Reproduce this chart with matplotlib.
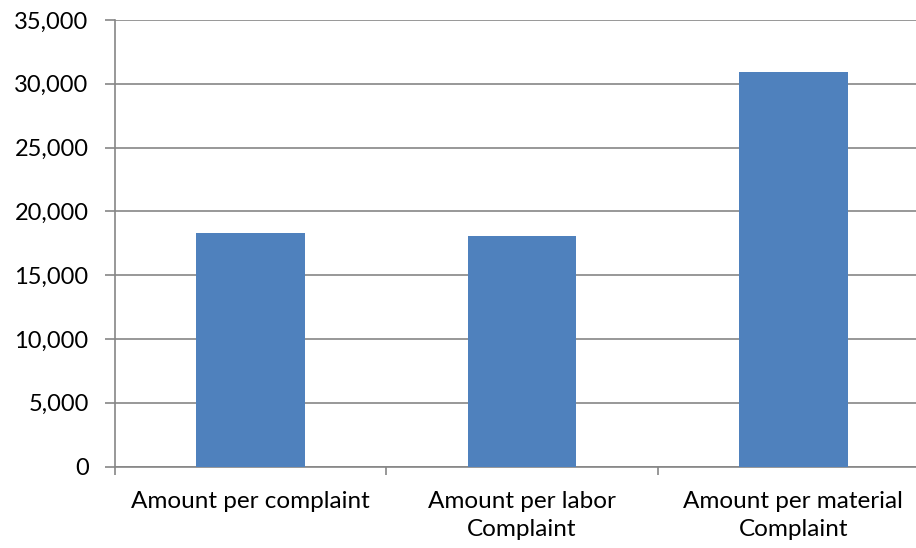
import matplotlib
matplotlib.use('Agg')
import matplotlib.pyplot as plt
from matplotlib.ticker import FuncFormatter, MultipleLocator

categories = ['Amount per complaint', 'Amount per labor\nComplaint', 'Amount per material\nComplaint']
amounts = [18330, 18050, 30950]

plt.rcParams['font.family'] = ['Lato', 'DejaVu Sans']

fig = plt.figure(figsize=(9.16, 5.48), dpi=100)
ax = fig.add_axes([115 / 916, 81.5 / 548, 814 / 916, 446.5 / 548])

grid_col = '#868686'
x = list(range(len(categories)))
ax.bar(x, amounts, width=0.4, color='#4F81BD', zorder=3)

ax.set_xlim(-0.5, 2.5)
ax.set_ylim(0, 35000)
ax.yaxis.set_major_locator(MultipleLocator(5000))
ax.yaxis.set_major_formatter(FuncFormatter(lambda v, p: f'{int(v):,}'))
ax.grid(axis='y', color=grid_col, linewidth=1.2, zorder=0)
ax.set_axisbelow(True)

ax.set_xticks(x)
ax.set_xticklabels(categories, linespacing=1.4)
ax.set_xticks([-0.5, 0.5, 1.5, 2.5], minor=True)
ax.tick_params(axis='x', which='major', length=0, pad=18, labelsize=17.5, colors='black')
ax.tick_params(axis='x', which='minor', length=6, width=1.2, color=grid_col)
ax.tick_params(axis='y', length=7, width=1.2, color=grid_col, pad=12, labelsize=17)

for s in ['top', 'right']:
    ax.spines[s].set_visible(False)
for s in ['left', 'bottom']:
    ax.spines[s].set_color(grid_col)
    ax.spines[s].set_linewidth(1.2)

fig.savefig('out.png', dpi=100)
